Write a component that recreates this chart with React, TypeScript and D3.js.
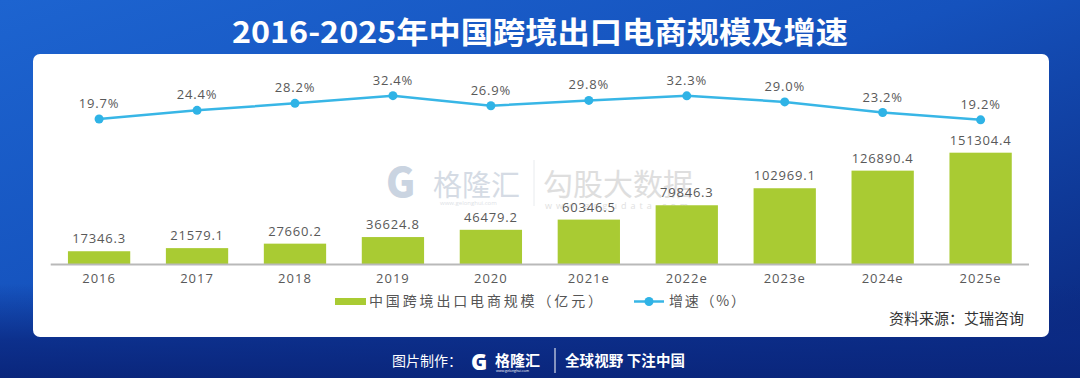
import React from "react";
import * as d3 from "d3";

const years = ["2016", "2017", "2018", "2019", "2020", "2021e", "2022e", "2023e", "2024e", "2025e"];
const scaleValues = [17346.3, 21579.1, 27660.2, 36624.8, 46479.2, 60346.5, 79846.3, 102969.1, 126890.4, 151304.4];
const growthValues = [19.7, 24.4, 28.2, 32.4, 26.9, 29.8, 32.3, 29.0, 23.2, 19.2];
const titleText = "2016-2025年中国跨境出口电商规模及增速";
const barLegend = "中国跨境出口电商规模（亿元）";
const lineLegend = "增速（%）";
const sourceText = "资料来源：艾瑞咨询";

const W = 1080;
const H = 378;
const CJK = "'Noto Sans CJK SC', 'Noto Sans', sans-serif";
const NUM = "'Open Sans', 'DejaVu Sans', sans-serif";

export default function App() {
  const x = d3.scaleBand<string>().domain(years).range([50.7, 1029]).paddingInner(0.364).paddingOuter(0.176);
  const yBar = d3.scaleLinear().domain([0, 280000]).range([264, 58]);
  const yLine = d3.scaleLinear().domain([0, 40]).range([155.1, 81.7]);
  const cx = (d: string) => (x(d) as number) + x.bandwidth() / 2;
  const line = d3
    .line<number>()
    .x((_, i) => cx(years[i]))
    .y((d) => yLine(d));

  return (
    <svg width={W} height={H} style={{ position: "fixed", left: 0, top: 0 }} xmlns="http://www.w3.org/2000/svg">
      <defs>
        <linearGradient id="bg" x1="0" y1="0" x2="1" y2="1">
          <stop offset="0" stopColor="#1d64d0" />
          <stop offset="0.45" stopColor="#1552bd" />
          <stop offset="1" stopColor="#0a257a" />
        </linearGradient>
        <linearGradient id="bgv" x1="0" y1="0" x2="0" y2="1">
          <stop offset="0" stopColor="#0b2a84" stopOpacity="0" />
          <stop offset="0.75" stopColor="#0b2a84" stopOpacity="0.0" />
          <stop offset="0.9" stopColor="#0b2a84" stopOpacity="0.85" />
          <stop offset="1" stopColor="#0a267c" stopOpacity="1" />
        </linearGradient>
      </defs>
      <rect x={0} y={0} width={W} height={H} fill="url(#bg)" />
      <rect x={0} y={0} width={W} height={H} fill="url(#bgv)" />

      <text x={540} y={43} textAnchor="middle" fill="#ffffff" fontFamily={CJK} fontWeight={700} fontSize={30} textLength={616} lengthAdjust="spacingAndGlyphs">
        {titleText}
      </text>

      <rect x={33} y={54} width={1016} height={283} rx={7} fill="#ffffff" />

      {/* watermark */}
      <g opacity={0.55}>
        <text x={386} y={197} fill="#9fb1c9" fontFamily={CJK} fontWeight={900} fontSize={40}>G</text>
        <text x={433} y={196} fill="#b4bfcf" fontFamily={CJK} fontSize={29}>格隆汇</text>
        <text x={440} y={205} fill="#c3c9d2" fontFamily={NUM} fontSize={6}>www.gelonghui.com</text>
        <line x1={534} x2={534} y1={160} y2={206} stroke="#d8dce2" strokeWidth={1} />
        <text x={543} y={195} fill="#c4c4c4" fontFamily={CJK} fontSize={30}>勾股大数据</text>
        <text x={545} y={209} fill="#c8c8c8" fontFamily={NUM} fontSize={9} letterSpacing={4}>www.gogudata.com</text>
      </g>

      {/* bars */}
      {scaleValues.map((v, i) => (
        <rect key={"b" + i} x={x(years[i])} y={yBar(v)} width={x.bandwidth()} height={yBar(0) - yBar(v)} fill="#a9cb33" />
      ))}
      {scaleValues.map((v, i) => (
        <text key={"bl" + i} x={cx(years[i])} y={yBar(v) - 8} textAnchor="middle" fill="#595959" fontFamily={NUM} fontSize={13} letterSpacing={0.8}>
          {v.toFixed(1)}
        </text>
      ))}

      {/* axis */}
      <line x1={50.7} x2={1029} y1={264.5} y2={264.5} stroke="#b9b9b9" strokeWidth={2} />
      {years.map((d) => (
        <text key={"x" + d} x={cx(d)} y={283} textAnchor="middle" fill="#595959" fontFamily={NUM} fontSize={13} letterSpacing={1}>
          {d}
        </text>
      ))}

      {/* line */}
      <path d={line(growthValues) || ""} fill="none" stroke="#38b6e6" strokeWidth={2.5} />
      {growthValues.map((v, i) => (
        <circle key={"c" + i} cx={cx(years[i])} cy={yLine(v)} r={4.5} fill="#2fb3e6" />
      ))}
      {growthValues.map((v, i) => (
        <text key={"cl" + i} x={cx(years[i])} y={yLine(v) - 11} textAnchor="middle" fill="#595959" fontFamily={NUM} fontSize={13} letterSpacing={0.8}>
          {v.toFixed(1) + "%"}
        </text>
      ))}

      {/* legend */}
      <rect x={335} y={298} width={31} height={7} fill="#a9cb33" />
      <text x={369} y={306} fill="#555555" fontFamily={CJK} fontSize={14} textLength={233} lengthAdjust="spacing">
        {barLegend}
      </text>
      <line x1={634} x2={664} y1={301.5} y2={301.5} stroke="#38b6e6" strokeWidth={2.5} />
      <circle cx={649} cy={301.5} r={4.5} fill="#2fb3e6" />
      <text x={669} y={306} fill="#555555" fontFamily={CJK} fontSize={14} textLength={76} lengthAdjust="spacing">
        {lineLegend}
      </text>

      <text x={1024} y={324} textAnchor="end" fill="#333333" fontFamily={CJK} fontSize={15}>
        {sourceText}
      </text>

      {/* footer */}
      <text x={462} y={366} textAnchor="end" fill="#ffffff" fontFamily={CJK} fontSize={14}>
        图片制作：
      </text>
      <text x={471} y={370} fill="#ffffff" fontFamily={NUM} fontWeight={800} fontSize={22}>G</text>
      <text x={495} y={366} fill="#ffffff" fontFamily={CJK} fontWeight={700} fontSize={15}>格隆汇</text>
      <text x={496} y={372} fill="#ffffff" fontFamily={NUM} fontSize={3.5}>www.gelonghui.com</text>
      <line x1={555} x2={555} y1={348} y2={373} stroke="#ffffff" strokeWidth={1} />
      <text x={565} y={366} fill="#ffffff" fontFamily={CJK} fontWeight={700} fontSize={14.5} textLength={120} lengthAdjust="spacing">
        全球视野 下注中国
      </text>
    </svg>
  );
}
